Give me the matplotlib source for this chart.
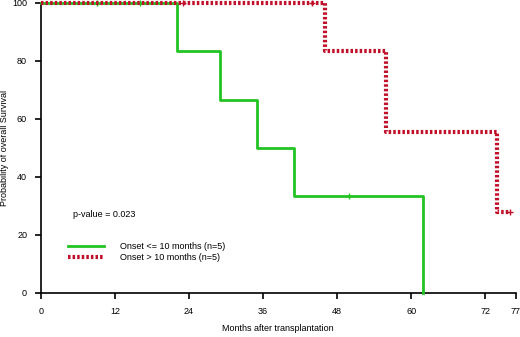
import numpy as np
import matplotlib.pyplot as plt

plt.rcParams['font.family'] = ['Liberation Sans', 'DejaVu Sans']

# Kaplan-Meier step data (months, survival %)
early_t = [0, 22, 29, 35, 41, 62]
early_s = [100, 83.3, 66.7, 50.0, 33.3, 0]
early_cens_t = [9, 16, 50]
early_cens_s = [100, 100, 33.3]

late_t = [0, 46, 56, 74, 76]
late_s = [100, 83.3, 55.6, 27.8, 27.8]
late_cens_t = [23, 44, 76]
late_cens_s = [100, 100, 27.8]

xticks = [0, 12, 24, 36, 48, 60, 72, 77]
yticks = [0, 20, 40, 60, 80, 100]

green = '#22c322'
red = '#c0102a'

fig = plt.figure(figsize=(5.2, 3.37), dpi=100)
ax = fig.add_axes([41/520, 44/337, 475/520, 290/337])

ax.step(early_t, early_s, where='post', color=green, lw=2,
        label='Onset <= 10 months (n=5)', clip_on=False, zorder=3)
ax.plot(early_cens_t, early_cens_s, '+', color=green, ms=5, mew=1, clip_on=False, zorder=4)
ax.step(late_t, late_s, where='post', color=red, lw=3, ls=(0, (0.6, 0.5)),
        label='Onset > 10 months (n=5)', clip_on=False, zorder=4)
ax.plot(late_cens_t, late_cens_s, '+', color=red, ms=5, mew=1, clip_on=False, zorder=5)

ax.set_xlim(0, 77)
ax.set_ylim(0, 100)
ax.set_xticks(xticks)
ax.set_yticks(yticks)
ax.spines['top'].set_visible(False)
ax.spines['right'].set_visible(False)
for s in ['left', 'bottom']:
    ax.spines[s].set_linewidth(1.2)
ax.tick_params(direction='out', length=4, width=1.2, labelsize=6.5, pad=6)

ax.set_xlabel('Months after transplantation', fontsize=6.5)
ax.xaxis.set_label_coords(0.381, -0.124)
ax.xaxis.label.set_ha('left')
ax.xaxis.label.set_va('center')
ax.set_ylabel('Probability of overall Survival', fontsize=6.5)
ax.yaxis.set_label_coords(-0.068, 0.5)

ax.text(5.2, 27, 'p-value = 0.023', fontsize=6.5, va='center')
ax.legend(loc='upper left', bbox_to_anchor=(0.04, 0.205), frameon=False,
          fontsize=6.5, handlelength=4, handletextpad=1.8, labelspacing=0.3)

fig.savefig('out.png', dpi=100)
